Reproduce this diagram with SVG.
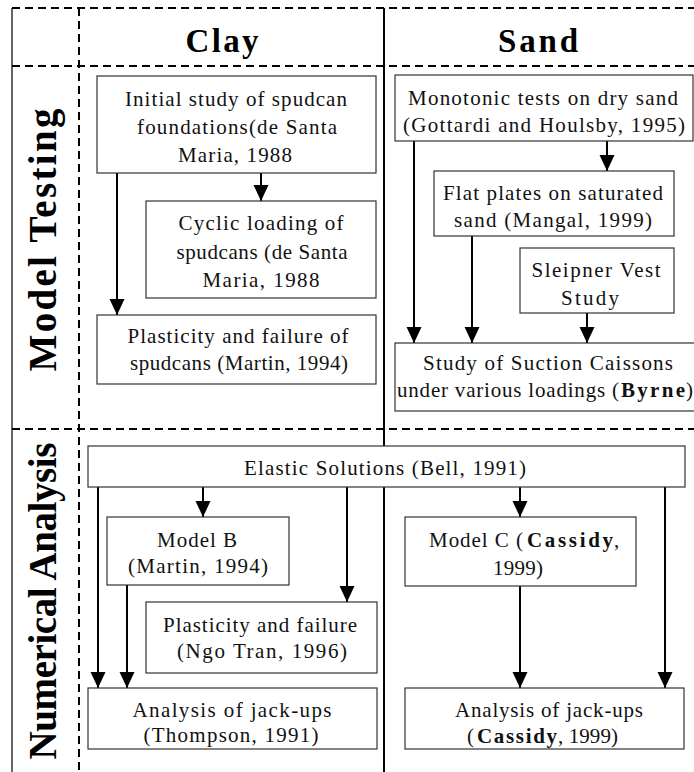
<svg xmlns="http://www.w3.org/2000/svg" width="694" height="772" viewBox="0 0 694 772">
<style>
.frame{stroke:#000;stroke-width:2;fill:none}
.thin{stroke:#000;stroke-width:1.2;fill:none}
.dash{stroke:#000;stroke-width:2;stroke-dasharray:8 5;fill:none}
.box{fill:#fff;stroke:#333;stroke-width:1.2}
.t{font-family:"Liberation Serif","Times New Roman",serif;font-size:21px;fill:#111;text-anchor:middle}
.s{text-anchor:start}
.b{font-weight:bold}
.h{font-family:"Liberation Serif","Times New Roman",serif;font-size:33px;font-weight:bold;fill:#000;text-anchor:middle}
.v{font-family:"Liberation Serif","Times New Roman",serif;font-size:39px;font-weight:bold;fill:#000;text-anchor:middle}
.c{stroke:#000;stroke-width:2;fill:none;marker-end:url(#ah)}
</style>
<defs>
<marker id="ah" viewBox="0 0 16 16" refX="16" refY="8" markerWidth="16" markerHeight="16" markerUnits="userSpaceOnUse" orient="auto">
<path d="M0,0.5 L16,8 L0,15.5 z" fill="#000"/>
</marker>
</defs>
<rect width="694" height="772" fill="#fff"/>
<g id="grid">
<line class="thin" x1="12" y1="8" x2="12" y2="772"/>
<line class="frame" x1="384" y1="8" x2="384" y2="772"/>
<line class="dash" x1="12" y1="8" x2="694" y2="8"/>
<line class="dash" x1="12" y1="66" x2="694" y2="66"/>
<line class="dash" x1="12" y1="429" x2="694" y2="429"/>
<line class="dash" x1="79" y1="8" x2="79" y2="772"/>
</g>
<g id="headers">
<text class="h" x="222" y="52" textLength="73" lengthAdjust="spacing">Clay</text>
<text class="h" x="538" y="52" textLength="80" lengthAdjust="spacing">Sand</text>
<text class="v" transform="translate(56,240) rotate(-90)" textLength="263" lengthAdjust="spacing">Model Testing</text>
<text class="v" transform="translate(56,601) rotate(-90)" textLength="317" lengthAdjust="spacing">Numerical Analysis</text>
</g>
<g id="connectors">
<line class="c" x1="261" y1="173" x2="261" y2="201"/>
<line class="c" x1="117" y1="173" x2="117" y2="315"/>
<line class="c" x1="607" y1="141" x2="607" y2="171"/>
<line class="c" x1="414" y1="141" x2="414" y2="343"/>
<line class="c" x1="472" y1="236" x2="472" y2="343"/>
<line class="c" x1="587" y1="313" x2="587" y2="343"/>
<line class="c" x1="98" y1="487" x2="98" y2="688"/>
<line class="c" x1="203" y1="487" x2="203" y2="517"/>
<line class="c" x1="347" y1="487" x2="347" y2="602"/>
<line class="c" x1="520" y1="487" x2="520" y2="517"/>
<line class="c" x1="665" y1="487" x2="665" y2="688"/>
<line class="c" x1="127" y1="585" x2="127" y2="688"/>
<line class="c" x1="520" y1="586" x2="520" y2="688"/>
</g>
<g id="initial-study">
<rect class="box" x="97" y="76" width="279" height="97"/>
<text class="t" x="236" y="106" textLength="222" lengthAdjust="spacing">Initial study of spudcan</text>
<text class="t" x="237" y="134" textLength="200" lengthAdjust="spacing">foundations(de Santa</text>
<text class="t" x="235" y="162" textLength="114" lengthAdjust="spacing">Maria, 1988</text>
</g>
<g id="cyclic-loading">
<rect class="box" x="146" y="201" width="230" height="97"/>
<text class="t" x="261" y="230" textLength="165" lengthAdjust="spacing">Cyclic loading of</text>
<text class="t" x="262" y="259" textLength="171" lengthAdjust="spacing">spudcans (de Santa</text>
<text class="t" x="261" y="287" textLength="117" lengthAdjust="spacing">Maria, 1988</text>
</g>
<g id="plasticity-martin">
<rect class="box" x="97" y="315" width="279" height="69"/>
<text class="t" x="238" y="343" textLength="221" lengthAdjust="spacing">Plasticity and failure of</text>
<text class="t" x="239" y="370" textLength="218" lengthAdjust="spacing">spudcans (Martin, 1994)</text>
</g>
<g id="monotonic">
<rect class="box" x="395" y="75" width="298" height="66"/>
<text class="t" x="543" y="105" textLength="270" lengthAdjust="spacing">Monotonic tests on dry sand</text>
<text class="t" x="544" y="132" textLength="282" lengthAdjust="spacing">(Gottardi and Houlsby, 1995)</text>
</g>
<g id="flat-plates">
<rect class="box" x="434" y="171" width="240" height="65"/>
<text class="t" x="553" y="200" textLength="220" lengthAdjust="spacing">Flat plates on saturated</text>
<text class="t" x="553" y="227" textLength="198" lengthAdjust="spacing">sand (Mangal, 1999)</text>
</g>
<g id="sleipner">
<rect class="box" x="520" y="248" width="154" height="65"/>
<text class="t" x="596" y="277" textLength="129" lengthAdjust="spacing">Sleipner Vest</text>
<text class="t" x="590" y="305" textLength="58" lengthAdjust="spacing">Study</text>
</g>
<g id="suction-caissons">
<rect class="box" x="395" y="343" width="306" height="68"/>
<text class="t" x="548" y="370" textLength="250" lengthAdjust="spacing">Study of Suction Caissons</text>
<text class="t s" x="397" y="397" textLength="222" lengthAdjust="spacing">under various loadings (</text>
<text class="t s b" x="621" y="397" textLength="64" lengthAdjust="spacing">Byrne</text>
<text class="t s" x="686" y="397">)</text>
</g>
<g id="elastic">
<rect class="box" x="88" y="446" width="597" height="41"/>
<text class="t" x="385" y="475" textLength="282" lengthAdjust="spacing">Elastic Solutions (Bell, 1991)</text>
</g>
<g id="model-b">
<rect class="box" x="107" y="517" width="182" height="68"/>
<text class="t" x="197" y="547" textLength="80" lengthAdjust="spacing">Model B</text>
<text class="t" x="198" y="573" textLength="140" lengthAdjust="spacing">(Martin, 1994)</text>
</g>
<g id="plasticity-ngo">
<rect class="box" x="146" y="602" width="231" height="71"/>
<text class="t" x="260" y="632" textLength="194" lengthAdjust="spacing">Plasticity and failure</text>
<text class="t" x="262" y="658" textLength="170" lengthAdjust="spacing">(Ngo Tran, 1996)</text>
</g>
<g id="jackups-thompson">
<rect class="box" x="88" y="688" width="289" height="61"/>
<text class="t" x="232" y="717" textLength="199" lengthAdjust="spacing">Analysis of jack-ups</text>
<text class="t" x="231" y="742" textLength="175" lengthAdjust="spacing">(Thompson, 1991)</text>
</g>
<g id="model-c">
<rect class="box" x="405" y="517" width="231" height="69"/>
<text class="t s" x="429" y="547" textLength="94" lengthAdjust="spacing">Model C (</text>
<text class="t s b" x="527" y="547" textLength="86" lengthAdjust="spacing">Cassidy</text>
<text class="t s" x="614" y="547">,</text>
<text class="t" x="518" y="575" textLength="50" lengthAdjust="spacing">1999)</text>
</g>
<g id="jackups-cassidy">
<rect class="box" x="405" y="688" width="279" height="61"/>
<text class="t" x="549" y="717" textLength="188" lengthAdjust="spacing">Analysis of jack-ups</text>
<text class="t s" x="467" y="743">(</text>
<text class="t s b" x="477" y="743" textLength="80" lengthAdjust="spacing">Cassidy</text>
<text class="t s" x="558" y="743" textLength="60" lengthAdjust="spacing">, 1999)</text>
</g>
</svg>
